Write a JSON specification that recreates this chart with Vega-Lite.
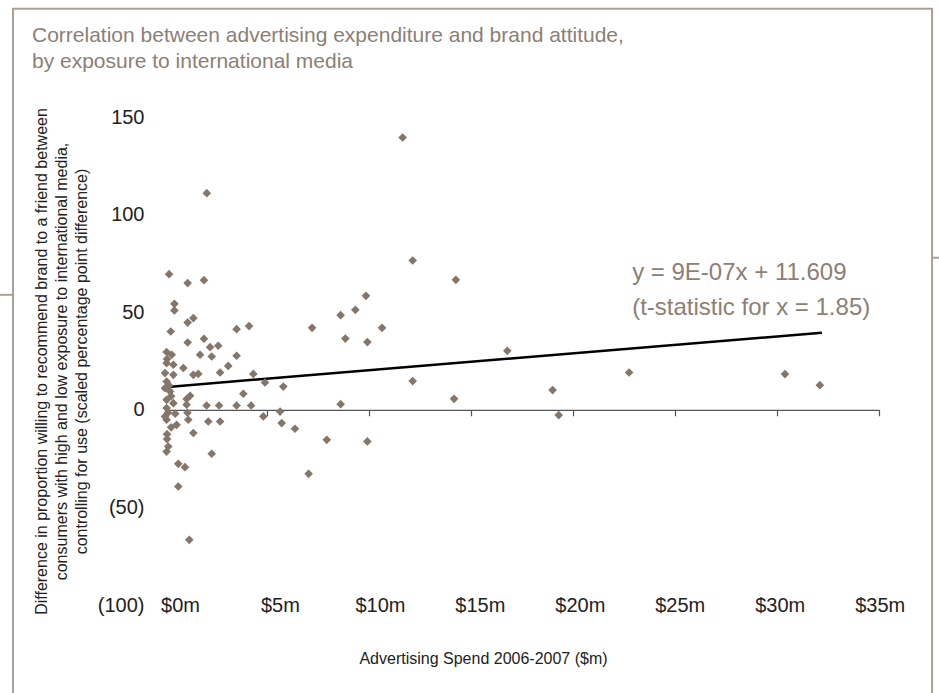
{
  "$schema": "https://vega.github.io/schema/vega-lite/v6.json",
  "autosize": "none",
  "width": 714,
  "height": 488,
  "padding": {"left": 165, "top": 117, "right": 60, "bottom": 88},
  "background": "white",
  "config": {"view": {"stroke": null}, "font": "Liberation Sans"},
  "title": {
    "text": ["Correlation between advertising expenditure and brand attitude,", "by exposure to international media"],
    "anchor": "start",
    "frame": "group",
    "orient": "top",
    "offset": 0,
    "dx": -133,
    "dy": 64,
    "fontSize": 21,
    "fontWeight": "normal",
    "color": "#8b7f76",
    "lineHeight": 26
  },
  "datasets": {
    "points": [
      {"spend": 11.65, "diff": 139.5}, {"spend": 12.14, "diff": 76.5}, {"spend": 14.26, "diff": 66.6},
      {"spend": 9.85, "diff": 58.4}, {"spend": 9.33, "diff": 51.2}, {"spend": 8.61, "diff": 48.5},
      {"spend": 7.21, "diff": 42}, {"spend": 10.64, "diff": 42}, {"spend": 8.84, "diff": 36.5},
      {"spend": 9.92, "diff": 34.7}, {"spend": 16.78, "diff": 30.2}, {"spend": 12.14, "diff": 14.7},
      {"spend": 19.0, "diff": 10.1}, {"spend": 8.61, "diff": 2.9}, {"spend": 14.17, "diff": 5.6},
      {"spend": 19.3, "diff": -2.7}, {"spend": 7.93, "diff": -15.4}, {"spend": 9.92, "diff": -16.2},
      {"spend": 7.04, "diff": -32.8}, {"spend": 22.75, "diff": 19.1}, {"spend": 30.39, "diff": 18.3},
      {"spend": 32.1, "diff": 12.6}, {"spend": 2.05, "diff": 111},
      {"spend": 0.2, "diff": 69.5}, {"spend": 1.11, "diff": 64.9}, {"spend": 1.91, "diff": 66.4},
      {"spend": 0.46, "diff": 54.3}, {"spend": 0.46, "diff": 50.9}, {"spend": 1.39, "diff": 47},
      {"spend": 1.11, "diff": 44.7}, {"spend": 0.28, "diff": 40.1}, {"spend": 3.51, "diff": 41.3},
      {"spend": 4.12, "diff": 42.9}, {"spend": 1.11, "diff": 34.5}, {"spend": 1.91, "diff": 36.4},
      {"spend": 2.21, "diff": 32.1}, {"spend": 2.61, "diff": 32.8}, {"spend": 1.72, "diff": 28.2},
      {"spend": 2.29, "diff": 27.3}, {"spend": 3.51, "diff": 27.7}, {"spend": 0.08, "diff": 29.6},
      {"spend": 0.33, "diff": 28.2}, {"spend": 0.08, "diff": 23.9}, {"spend": 0.41, "diff": 23.1},
      {"spend": 0.9, "diff": 21.4}, {"spend": 3.1, "diff": 22.5}, {"spend": 2.7, "diff": 19.1},
      {"spend": 0, "diff": 18.8}, {"spend": 0.41, "diff": 17.9}, {"spend": 1.39, "diff": 17.9},
      {"spend": 1.63, "diff": 18.4}, {"spend": 4.33, "diff": 18.4}, {"spend": 4.9, "diff": 14},
      {"spend": 5.8, "diff": 11.9}, {"spend": 0.08, "diff": 14.5}, {"spend": 0, "diff": 11.1},
      {"spend": 0.25, "diff": 9.4}, {"spend": 3.84, "diff": 8.2}, {"spend": 1.23, "diff": 7.2},
      {"spend": 1.06, "diff": 5.5}, {"spend": 0.08, "diff": 5.1}, {"spend": 0.41, "diff": 3.4},
      {"spend": 2.04, "diff": 2.2}, {"spend": 2.65, "diff": 2.2}, {"spend": 3.51, "diff": 2.2},
      {"spend": 4.22, "diff": 2.2}, {"spend": 1.06, "diff": 2.6}, {"spend": 0.08, "diff": 0.9},
      {"spend": 4.82, "diff": -3.4}, {"spend": 5.64, "diff": -0.9}, {"spend": 0.08, "diff": -5.1},
      {"spend": 1.14, "diff": -5.1}, {"spend": 0.57, "diff": -7.7}, {"spend": 2.12, "diff": -6},
      {"spend": 2.7, "diff": -6}, {"spend": 5.72, "diff": -6.8}, {"spend": 6.37, "diff": -9.7},
      {"spend": 1.39, "diff": -11.9}, {"spend": 0, "diff": -3.4}, {"spend": 0.1, "diff": -12.5},
      {"spend": 0.16, "diff": -18.8}, {"spend": 0.08, "diff": -21.4}, {"spend": 2.29, "diff": -22.5},
      {"spend": 0.65, "diff": -27.7}, {"spend": 0.98, "diff": -29.4}, {"spend": 0.65, "diff": -39.3},
      {"spend": 1.19, "diff": -66.6}, {"spend": 0.1, "diff": 26}, {"spend": 0.2, "diff": 12.5},
      {"spend": 0.3, "diff": 7}, {"spend": 0.15, "diff": -1.5}, {"spend": 0.3, "diff": -9},
      {"spend": 0.1, "diff": -15}, {"spend": 1.1, "diff": -1.5}, {"spend": 0.5, "diff": -2}
    ],
    "trend": [{"spend": 0, "diff": 11.6}, {"spend": 32.2, "diff": 39.5}],
    "note": [{"label": ["y = 9E-07x + 11.609", "(t-statistic for x = 1.85)"]}]
  },
  "resolve": {"axis": {"x": "independent", "y": "independent"}},
  "layer": [
    {
      "data": {"values": [{}]},
      "mark": {"type": "rect", "fillOpacity": 0, "stroke": "#aaa097", "strokeWidth": 2},
      "encoding": {
        "x": {"datum": -7.45, "type": "quantitative", "scale": {"domain": [0, 35], "nice": false, "zero": false}, "axis": null},
        "x2": {"datum": 37.6},
        "y": {"datum": 205.4, "type": "quantitative", "scale": {"domain": [-100, 150], "nice": false, "zero": false}, "axis": null},
        "y2": {"datum": -150}
      }
    },
    {
      "data": {"values": [{}]},
      "mark": {"type": "rule", "stroke": "#aaa097", "strokeWidth": 2},
      "encoding": {
        "x": {"datum": -8.3, "type": "quantitative", "axis": null},
        "x2": {"datum": -7.45},
        "y": {"datum": 58.9, "type": "quantitative", "axis": null}
      }
    },
    {
      "data": {"values": [{}]},
      "mark": {"type": "rule", "stroke": "#aaa097", "strokeWidth": 2},
      "encoding": {
        "x": {"datum": 37.6, "type": "quantitative", "axis": null},
        "x2": {"datum": 38.2},
        "y": {"datum": 77.9, "type": "quantitative", "axis": null}
      }
    },
    {
      "data": {"name": "trend"},
      "mark": {"type": "line", "color": "#000000", "strokeWidth": 2.5},
      "encoding": {
        "x": {
          "field": "spend", "type": "quantitative",
          "scale": {"domain": [0, 35], "nice": false, "zero": false},
          "axis": {
            "orient": "top",
            "offset": {"expr": "-scale('y', 0)"},
            "values": [0, 5, 10, 15, 20, 25, 30, 35],
            "domain": true, "domainColor": "#555555", "domainWidth": 1.2,
            "ticks": true, "tickColor": "#555555", "tickWidth": 1.2, "tickSize": -6,
            "labels": false, "grid": false, "title": null
          }
        },
        "y": {"field": "diff", "type": "quantitative", "scale": {"domain": [-100, 150], "nice": false, "zero": false}, "axis": null}
      }
    },
    {
      "data": {"name": "points"},
      "mark": {"type": "point", "shape": "diamond", "filled": true, "size": 75, "color": "#85766a", "opacity": 1},
      "encoding": {
        "x": {
          "field": "spend", "type": "quantitative",
          "scale": {"domain": [0, 35], "nice": false, "zero": false},
          "axis": {
            "orient": "bottom",
            "values": [0, 5, 10, 15, 20, 25, 30, 35],
            "domain": false, "ticks": false, "tickSize": 0, "grid": false,
            "labelExpr": "'$' + datum.value + 'm'",
            "labelFontSize": 20, "labelColor": "#222222", "labelBaseline": "middle",
            "labelPadding": 0, "labelFlush": false, "labelOverlap": false,
            "labelOffset": {"expr": "15 - 0.41 * datum.value"},
            "title": "Advertising Spend 2006-2007 ($m)",
            "titleFontSize": 16, "titleFontWeight": "normal", "titleColor": "#222222",
            "titleX": 318, "titleY": 53, "titleBaseline": "middle", "titleAlign": "center"
          }
        },
        "y": {
          "field": "diff", "type": "quantitative",
          "scale": {"domain": [-100, 150], "nice": false, "zero": false},
          "axis": {
            "values": [-100, -50, 0, 50, 100, 150],
            "domain": false, "ticks": false, "tickSize": 0, "grid": false,
            "labelExpr": "datum.value < 0 ? '(' + abs(datum.value) + ')' : '' + datum.value",
            "labelFontSize": 20, "labelColor": "#222222", "labelPadding": 21,
            "labelFlush": false, "labelOverlap": false,
            "title": ["Difference in proportion willing to recommend brand to a friend between", "consumers with high and low exposure to international media,", "controlling for use (scaled percentage point difference)"],
            "titleFontSize": 16, "titleFontWeight": "normal", "titleColor": "#222222",
            "titleLineHeight": 20, "titleAngle": -90, "titleX": -124, "titleY": 244,
            "titleAlign": "center", "titleBaseline": "middle"
          }
        }
      }
    },
    {
      "data": {"name": "note"},
      "mark": {"type": "text", "align": "left", "baseline": "middle", "fontSize": 24, "color": "#8b7f76", "lineHeight": 35},
      "encoding": {
        "x": {"datum": 22.9, "type": "quantitative", "axis": null},
        "y": {"datum": 70.2, "type": "quantitative", "axis": null},
        "text": {"field": "label"}
      }
    }
  ]
}
